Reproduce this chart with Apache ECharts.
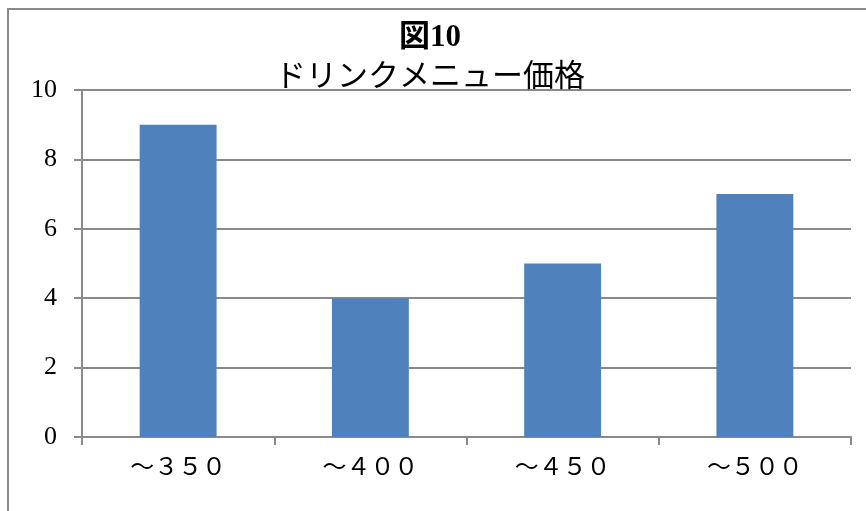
<!DOCTYPE html>
<html>
<head>
<meta charset="utf-8">
<script src="https://cdn.jsdelivr.net/npm/echarts@6/dist/echarts.min.js"></script>
<style>
  html, body { margin: 0; padding: 0; background: #fff; }
  #main { width: 866px; height: 511px; }
</style>
</head>
<body>
<div id="main"></div>
<script>
var categories = ['～３５０', '～４００', '～４５０', '～５００'];
var counts = [9, 4, 5, 7];
var yTicks = { min: 0, max: 10, interval: 2 };

var fontFamily = '"Liberation Serif", "DejaVu Serif", "Noto Sans CJK JP", serif';

var myChart = echarts.init(document.getElementById('main'));

var option = {
    backgroundColor: '#ffffff',
    animation: false,
    title: [
        {
            text: '図10',
            left: 425,
            top: 17,
            textAlign: 'center',
            textStyle: { fontFamily: fontFamily, fontSize: 31, fontWeight: 'bold', color: '#000' }
        },
        {
            text: 'ドリンクメニュー価格',
            left: 425,
            top: 57,
            textAlign: 'center',
            textStyle: { fontFamily: fontFamily, fontSize: 31, fontWeight: 'normal', color: '#000' }
        }
    ],
    graphic: [
        {
            type: 'rect',
            shape: { x: 8, y: 9, width: 900, height: 560 },
            style: { fill: 'none', stroke: '#8a8a8a', lineWidth: 2 },
            z: -1
        }
    ],
    grid: {
        left: 82,
        right: 15,
        top: 90,
        bottom: 74
    },
    xAxis: {
        type: 'category',
        data: categories,
        axisLine: { lineStyle: { color: '#8a8a8a', width: 2 } },
        axisTick: { show: true, length: 8, lineStyle: { color: '#8a8a8a', width: 2 } },
        axisLabel: {
            interval: 0,
            margin: 20,
            fontFamily: fontFamily,
            fontSize: 24,
            color: '#000'
        },
        splitLine: { show: false }
    },
    yAxis: {
        type: 'value',
        min: yTicks.min,
        max: yTicks.max,
        interval: yTicks.interval,
        axisLine: { show: true, lineStyle: { color: '#8a8a8a', width: 2 } },
        axisTick: { show: true, length: 8, lineStyle: { color: '#8a8a8a', width: 2 } },
        axisLabel: {
            margin: 25,
            fontFamily: fontFamily,
            fontSize: 26,
            color: '#000'
        },
        splitLine: { show: true, lineStyle: { color: '#8a8a8a', width: 2 } }
    },
    series: [
        {
            type: 'bar',
            data: counts,
            barWidth: '40%',
            itemStyle: { color: '#4f81bd' }
        }
    ]
};

myChart.setOption(option, true);
</script>
</body>
</html>
